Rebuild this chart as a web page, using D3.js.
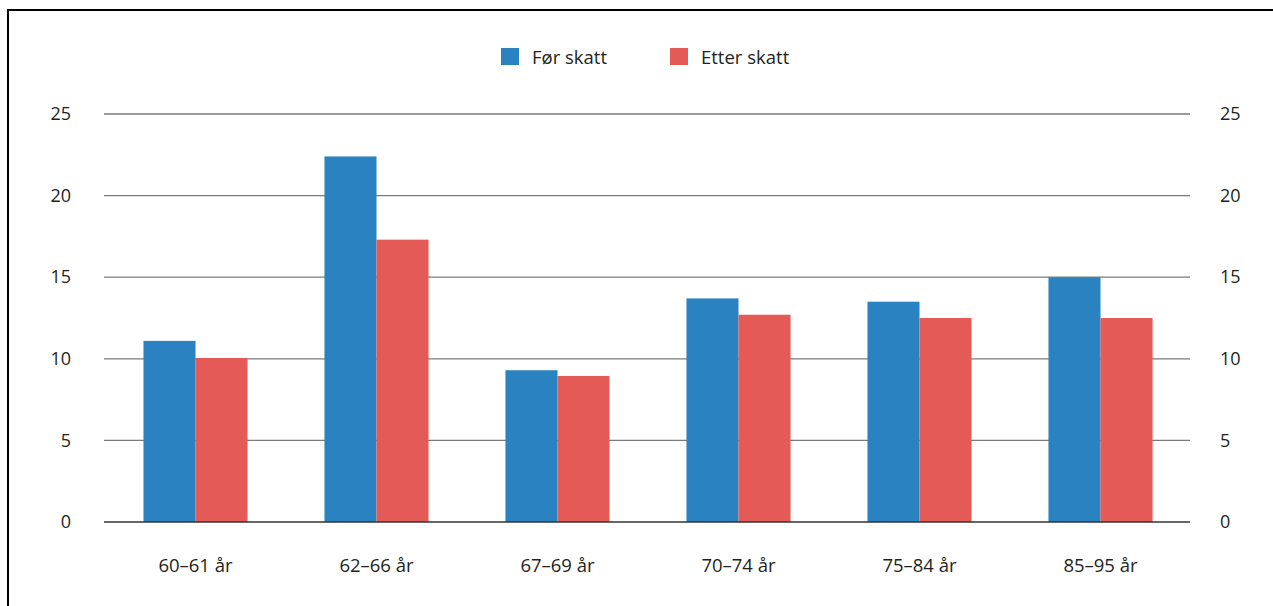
<!DOCTYPE html>
<html>
<head>
<meta charset="utf-8">
<script src="https://cdn.jsdelivr.net/npm/d3@7"></script>
<style>
body { margin: 0; background: #fff; }
text { font-family: "Open Sans", sans-serif; fill: #231f20; }
</style>
</head>
<body>
<script>
var w = 1273;
var h = 606;

var categories = ["60–61 år", "62–66 år", "67–69 år", "70–74 år", "75–84 år", "85–95 år"];
var series = ["Før skatt", "Etter skatt"];
var forSkatt = [11.1, 22.4, 9.3, 13.7, 13.5, 15.0];
var etterSkatt = [10.05, 17.3, 8.95, 12.7, 12.5, 12.5];
var yTicks = [0, 5, 10, 15, 20, 25];
var colors = ["#2a82c0", "#e35a56"];

var svg = d3.select("body").append("svg")
    .attr("width", w)
    .attr("height", h);

// frame lines top and left
svg.append("line")
    .attr("x1", 7).attr("x2", w).attr("y1", 10).attr("y2", 10)
    .attr("stroke", "#000").attr("stroke-width", 2);
svg.append("line")
    .attr("x1", 8).attr("x2", 8).attr("y1", 9).attr("y2", h)
    .attr("stroke", "#000").attr("stroke-width", 2);

var plotLeft = 104, plotRight = 1190, plotTop = 114, plotBottom = 522;

var x = d3.scaleBand().domain(categories).range([plotLeft + 1, plotRight + 1]).paddingInner(0.425).paddingOuter(0.2125);
var xs = d3.scaleBand().domain(series).range([0, x.bandwidth()]);
var y = d3.scaleLinear().domain([0, 25]).range([plotBottom, plotTop]);

// gridlines
svg.append("g").selectAll("line")
    .data(yTicks.filter(function (d) { return d > 0; }))
    .join("line")
    .attr("x1", plotLeft).attr("x2", plotRight)
    .attr("y1", function (d) { return y(d); })
    .attr("y2", function (d) { return y(d); })
    .attr("stroke", "#7a7a7a")
    .attr("stroke-width", 1.3);

// bars
var rows = categories.map(function (c, i) { return { cat: c, vals: [forSkatt[i], etterSkatt[i]] }; });
svg.append("g").selectAll("g")
    .data(rows)
    .join("g")
    .attr("transform", function (d) { return "translate(" + x(d.cat) + ",0)"; })
    .selectAll("rect")
    .data(function (d) { return d.vals.map(function (v, j) { return { s: series[j], v: v, j: j }; }); })
    .join("rect")
    .attr("x", function (d) { return xs(d.s); })
    .attr("width", xs.bandwidth())
    .attr("y", function (d) { return y(d.v); })
    .attr("height", function (d) { return y(0) - y(d.v); })
    .attr("fill", function (d) { return colors[d.j]; });

// zero line
svg.append("line")
    .attr("x1", plotLeft).attr("x2", plotRight)
    .attr("y1", y(0)).attr("y2", y(0))
    .attr("stroke", "#333").attr("stroke-width", 1.5);

// y axis labels, both sides
var leftAxis = svg.append("g")
    .attr("transform", "translate(71,0)")
    .call(d3.axisLeft(y).tickValues(yTicks).tickSize(0).tickPadding(0));
var rightAxis = svg.append("g")
    .attr("transform", "translate(1220,0)")
    .call(d3.axisRight(y).tickValues(yTicks).tickSize(0).tickPadding(0));
[leftAxis, rightAxis].forEach(function (a) {
    a.select(".domain").remove();
    a.selectAll("text").attr("font-size", 18).attr("font-family", "Open Sans").attr("fill", "#231f20");
});

// x axis labels
var xAxis = svg.append("g")
    .attr("transform", "translate(0," + (plotBottom + 37) + ")")
    .call(d3.axisBottom(x).tickSize(0).tickPadding(0));
xAxis.select(".domain").remove();
xAxis.selectAll("text").attr("font-size", 18.5).attr("font-family", "Open Sans").attr("fill", "#231f20");

// legend
var legendX = [501, 670];
series.forEach(function (s, i) {
    svg.append("rect")
        .attr("x", legendX[i]).attr("y", 48)
        .attr("width", 18).attr("height", 17)
        .attr("fill", colors[i]);
    svg.append("text")
        .text(s)
        .attr("x", legendX[i] + 31)
        .attr("y", 64)
        .attr("font-size", 18.5);
});
</script>
</body>
</html>
